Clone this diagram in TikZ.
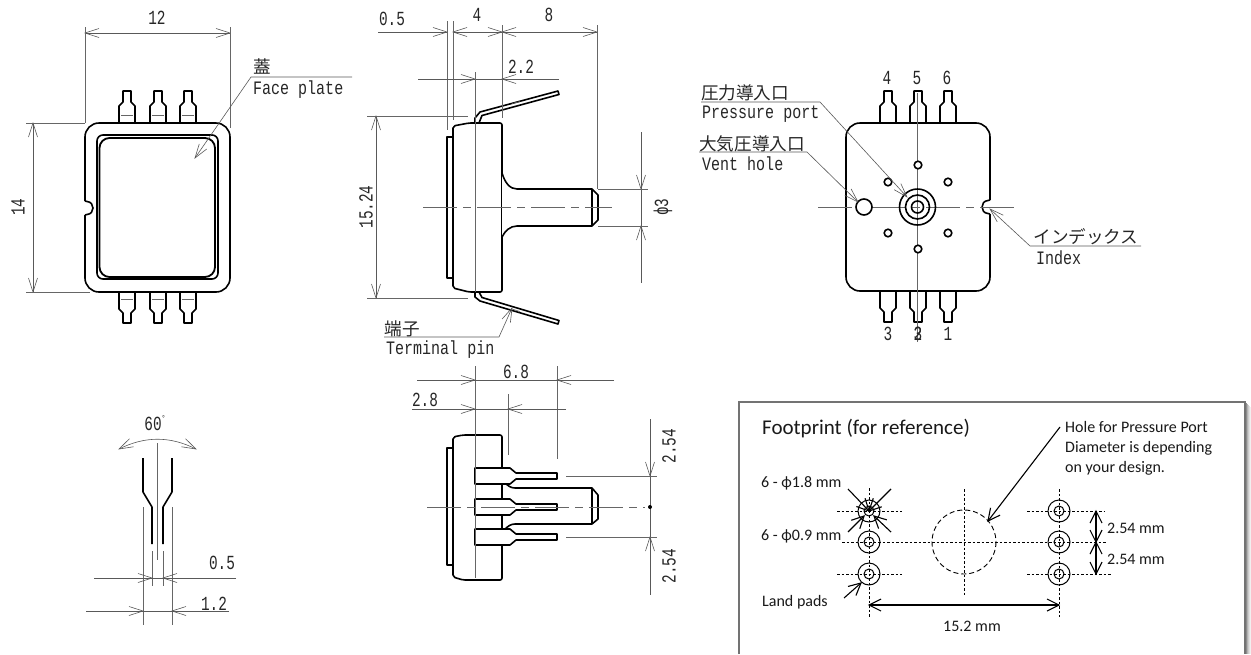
\documentclass[tikz,border=0pt]{standalone}
\usepackage{fontspec}
\usetikzlibrary{arrows.meta}
\newfontfamily\drawfont[FakeStretch=0.72]{Liberation Mono}
\newfontfamily\termfont[FakeStretch=0.79]{Liberation Mono}
\newfontfamily\jpfont{Noto Sans CJK JP}
\newfontfamily\notefont{Carlito}
\pgfdeclarearrow{
  name=VBarb,
  setup code={
    \pgfarrowssettipend{0pt}
    \pgfarrowssetlineend{-0.2pt}
    \pgfarrowssetbackend{-\pgfarrowlength}
    \pgfarrowssetvisualbackend{-\pgfarrowlength}
    \pgfarrowssavethe\pgfarrowlength
    \pgfarrowssavethe\pgfarrowwidth
  },
  drawing code={
    \pgfsetdash{}{0pt}
    \pgfsetmiterjoin
    \pgfpathmoveto{\pgfqpoint{-\pgfarrowlength}{0.5\pgfarrowwidth}}
    \pgfpathlineto{\pgfpointorigin}
    \pgfpathlineto{\pgfqpoint{-\pgfarrowlength}{-0.5\pgfarrowwidth}}
    \pgfusepathqstroke
  },
  parameters={\the\pgfarrowlength,\the\pgfarrowwidth},
  defaults={length=14pt,width=9pt}
}
\tikzset{
  x=1pt,y=-1pt,
  obj/.style={draw=black,line width=1.6pt,line join=round,fill=white},
  objl/.style={draw=black,line width=1.6pt,line join=round},
  thin line/.style={draw=black!60,line width=0.6pt},
  dimline/.style={draw=black!65,line width=0.6pt},
  open/.tip={VBarb[length=14pt,width=9pt]},
  fpopen/.tip={VBarb[length=12pt,width=12pt]},
  dimtip/.style={dimline,-open},
  dimboth/.style={dimline,open-open},
  center/.style={draw=black!60,line width=0.6pt,dash pattern=on 34pt off 6pt on 8pt off 6pt},
  dimlabel/.style={font=\drawfont\fontsize{20}{20}\selectfont,text=black!85,inner sep=0pt},
  termtext/.style={font=\termfont\fontsize{19}{19}\selectfont,text=black!85,inner sep=0pt,anchor=west},
  jp/.style={font=\jpfont\fontsize{17.6}{18}\selectfont,text=black!85,inner sep=0pt},
  note/.style={font=\notefont\fontsize{16}{16}\selectfont,text=black!90,inner sep=0pt,anchor=west},
  fpdash/.style={draw=black,line width=0.8pt,dash pattern=on 2.5pt off 2pt},
  fpland/.style={draw=black,line width=1pt},
  fparrow/.style={draw=black,line width=1.1pt,-fpopen},
  fpboth/.style={draw=black,line width=1.1pt,fpopen-fpopen},
}
\newcommand{\pinshape}[2]{% x, base y: pin going up
  \begin{scope}[shift={(#1,#2)}]
    \draw[obj] (-8,0)--(-8,-17)--(-4,-21)--(-4,-32)--(4,-32)--(4,-21)--(8,-17)--(8,0);
  \end{scope}}
\newcommand{\pinshapedown}[2]{%
  \begin{scope}[shift={(#1,#2)}]
    \draw[obj] (-8,0)--(-8,17)--(-4,21)--(-4,31)--(4,31)--(4,21)--(8,17)--(8,0);
  \end{scope}}
\newcommand{\landpad}[3]{% name, x, y
  \draw[fpland] (#2,#3) circle[radius=11];
  \draw[fpland] (#2,#3) circle[radius=5];
}
\begin{document}
\begin{tikzpicture}
\useasboundingbox (0,0) rectangle (1251,654);

% ===== Top view =====
\foreach \cx in {127,158,188}{\pinshape{\cx}{123}\pinshapedown{\cx}{292}
  \draw[thin line] (\cx-6,115)--(\cx+6,115);
  \draw[thin line] (\cx-6,299)--(\cx+6,299);}
\draw[obj,fill=none,rounded corners=14] (85,201)--(85,123)--(230,123)--(230,292)--(85,292)--(85,215);
\draw[objl] (85,201)--(87,201.5) .. controls (95,202) and (95,214) .. (87,214.5)--(85,215);
\draw[obj,fill=none,rounded corners=6] (97,135)rectangle(218,279);
\draw[obj,fill=none,rounded corners=10,line width=1.8pt] (99.5,138)rectangle(215,277);
\draw[dimboth] (85,33)--(230,33);
\draw[thin line] (85,27)--(85,123) (230,27)--(230,128);
\draw[dimboth] (33,123)--(33,292);
\draw[thin line] (26,123)--(85,123) (26,292)--(90,292);
\node[dimlabel] (d12) at (157,18) {12};
\node[dimlabel,rotate=90] (d14) at (18,207) {14};
\node[jp] (fpj) at (262,66) {蓋};
\node[termtext] (fpe) at (253,90) {Face plate};
\draw[dimtip] (352,77)--(251,77)--(195,158);

% ===== Side view =====
\draw[obj] (475,123)--(475,118)--(480,112)--(558,91)--(559,94.5)--(482,115.5)--(479,123);
\draw[obj] (475,292)--(475,297)--(480,301)--(558,324)--(559,320.5)--(482,297.5)--(479,292);
\draw[thin line] (512,103.5)--(520,101.5) (512,309)--(520,311.5);
\draw[obj] (447,137) rectangle (453,278);
\draw[obj,rounded corners=2] (453,126)--(469,123)--(502,123)--(502,292)--(469,292)--(453,288)--cycle;
\draw[obj] (502,173) .. controls (505,183) and (510,189) .. (517,189)--(592,189)--(598,195)--(598,220)--(592,226)--(517,226) .. controls (510,226) and (505,231) .. (502,237);
\draw[objl] (592,189)--(592,226);
\draw[center] (423,207)--(612,207);
\draw[dimtip] (378,32)--(447,32);
\draw[dimboth] (453,32)--(502,32);
\draw[dimboth] (502,32)--(597,32);
\draw[thin line] (447,21)--(447,130) (453,21)--(453,120) (502,25)--(502,118) (597,25)--(597,189);
\draw[dimtip] (418,79)--(475,79);
\draw[dimtip] (559,79)--(502,79);
\draw[dimline] (475,79)--(502,79);
\draw[thin line] (475,72)--(475,292);
\draw[dimboth] (376,116)--(376,298);
\draw[thin line] (367,116)--(468,116) (367,298)--(468,298);
\draw[dimline] (641,132)--(641,283);
\draw[dimtip] (641,165)--(641,189);
\draw[dimtip] (641,250)--(641,226);
\draw[thin line] (598,189)--(648,189) (598,226)--(648,226);
\node[dimlabel] (d05) at (392,19) {0.5};
\node[dimlabel] (d4) at (477,15) {4};
\node[dimlabel] (d8) at (549,15) {8};
\node[dimlabel] (d22) at (521,67) {2.2};
\node[dimlabel,rotate=90] (d1524) at (366,207) {15.24};
\node[dimlabel,rotate=90] (dphi) at (663,207) {ϕ3};
\node[jp] (tpj) at (402,329) {端子};
\node[termtext] (tpe) at (386,350) {Terminal pin};
\draw[dimtip] (384,337)--(499,337)--(512,308);

% ===== Rear view =====
\foreach \cx in {888,918,948}{\pinshape{\cx}{123}\pinshapedown{\cx}{291}}
\draw[obj,fill=none,rounded corners=14] (990,200)--(990,123)--(846,123)--(846,291)--(990,291)--(990,214);
\draw[objl] (990,200)--(988,200.5) .. controls (980,201) and (980,213) .. (988,213.5)--(990,214);
\draw[thin line] (917.5,93)--(917.5,342);
\draw[center] (818,207)--(1015,207);
\draw[obj,fill=white] (864,207) circle[radius=8];
\foreach \r in {18,12,6}{\draw[objl] (917.5,207) circle[radius=\r];}
\foreach \p in {(918,165),(888,182),(948,182),(888,233),(948,233),(918,249)}{\draw[obj] \p circle[radius=3.8];}
\draw[dimtip] (701,102)--(820,102)--(907,197);
\draw[dimtip] (699,152)--(807,152)--(858,202);
\draw[dimtip] (1141,246)--(1030,246)--(990,209);
\node[jp] (ppj) at (745,93) {圧力導入口};
\node[termtext] (ppe) at (702,114) {Pressure port};
\node[jp] (vhj) at (752,144) {大気圧導入口};
\node[termtext] (vhe) at (702,164) {Vent hole};
\node[jp] (ixj) at (1086,237) {インデックス};
\node[termtext] (ixe) at (1036,258) {Index};
\node[dimlabel] (p4) at (887,78) {4};
\node[dimlabel] (p5) at (917,78) {5};
\node[dimlabel] (p6) at (947,78) {6};
\node[dimlabel] (p3) at (888,334) {3};
\node[dimlabel] (p2) at (918,334) {2};
\node[dimlabel] (p3b) at (918,334) {3};
\node[dimlabel] (p1) at (948,334) {1};

% ===== Pin detail =====
\draw[objl] (143,458)--(143,492)--(152,507)--(152,544);
\draw[objl] (172,458)--(172,492)--(163,507)--(163,544);
\draw[thin line] (157,443)--(157,560);
\draw[thin line] (152,551)--(152,586) (163,551)--(163,586);
\draw[thin line] (143,507)--(143,625) (172,507)--(172,625);
\draw[dimtip] (94,578)--(152,578);
\draw[dimtip] (236,578)--(163,578);
\draw[dimline] (152,578)--(163,578);
\draw[dimtip] (86,611)--(143,611);
\draw[dimtip] (229,611)--(172,611);
\draw[dimline] (143,611)--(172,611);
\draw[dimboth] (119,449) .. controls (145,436) and (170,436) .. (196,449);
\node[dimlabel] (d60) at (155,423) {60\raisebox{0.45em}{\fontsize{9}{9}\selectfont°}};
\node[dimlabel] (dp5) at (222,563) {0.5};
\node[dimlabel] (d12b) at (214,604) {1.2};

% ===== Bottom side view =====
\draw[obj] (447,448) rectangle (453,565);
\draw[obj,rounded corners=2] (453,437)--(463,435)--(502,435)--(502,580)--(463,580)--(453,577)--cycle;
\draw[obj] (504,482) .. controls (508,486) and (511,488) .. (515,488)--(592,488)--(598,495)--(598,519)--(592,524)--(515,524) .. controls (511,524) and (508,526) .. (504,530);
\draw[objl] (592,488)--(592,524);
\foreach \cy in {476,507,537}{
  \draw[obj] (475,\cy-8)--(510,\cy-8)--(516,\cy-3)--(557,\cy-3)--(557,\cy+3)--(516,\cy+3)--(510,\cy+8)--(475,\cy+8)--cycle;}
\draw[center] (427,507)--(645,507);
\draw[thin line] (475,366)--(475,578) (557,366)--(557,459) (508,394)--(508,455);
\draw[dimtip] (417,380)--(475,380);
\draw[dimtip] (614,380)--(557,380);
\draw[dimline] (475,380)--(557,380);
\draw[dimtip] (412,409)--(475,409);
\draw[dimtip] (566,409)--(508,409);
\draw[dimline] (475,409)--(508,409);
\draw[dimline] (650,419)--(650,595);
\draw[dimtip] (650,452)--(650,476);
\draw[dimtip] (650,561)--(650,537);
\draw[thin line] (566,476)--(657,476) (566,537)--(657,537);
\fill[black] (650,507) circle[radius=2];
\node[dimlabel] (d68) at (516,372) {6.8};
\node[dimlabel] (d28) at (425,400) {2.8};
\node[dimlabel,rotate=90] (d254a) at (669,446) {2.54};
\node[dimlabel,rotate=90] (d254b) at (669,566) {2.54};

% ===== Footprint box =====
\foreach \o/\c in {5/6,4/12,3/20,2/30,1/45}{
  \draw[black!\c,line width=1pt] (739+\o,402+\o)--(1245+\o,402+\o)--(1245+\o,654);
}
\draw[fill=white,draw=black!55,line width=1.2pt] (739,654)--(739,402)--(1245,402)--(1245,654);
\node[note,font=\notefont\fontsize{21}{21}\selectfont] (fptitle) at (762,429) {Footprint (for reference)};
\node[note] (hole1) at (1065,427) {Hole for Pressure Port};
\node[note] (hole2) at (1065,448) {Diameter is depending};
\node[note] (hole3) at (1065,468) {on your design.};
\node[note] (phi18) at (761,483) {6 - ϕ1.8 mm};
\node[note] (phi09) at (761,536) {6 - ϕ0.9 mm};
\node[note] (land) at (762,602) {Land pads};
\node[note,anchor=center] (w152) at (972,626) {15.2 mm};
\node[note] (h1) at (1107,528) {2.54 mm};
\node[note] (h2) at (1107,559) {2.54 mm};
\draw[fpdash] (842,542)--(1107,542);
\draw[fpdash] (837,511)--(902,511) (837,574)--(902,574);
\draw[fpdash] (1027,511)--(1105,511) (1027,574)--(1112,574);
\draw[fpdash] (869,488)--(869,617) (1059,489)--(1059,617) (964,489)--(964,595);
\draw[draw=black,line width=0.9pt,dash pattern=on 5pt off 3pt] (964,542) circle[radius=32];
\foreach \y in {511,542,574}{\landpad{a}{869}{\y}\landpad{b}{1059}{\y}}
\draw[fparrow] (1060,427)--(988,521);
\draw[fpboth] (869,605)--(1059,605);
\draw[fpboth] (1096,511)--(1096,542);
\draw[fpboth] (1096,542)--(1096,574);
\draw[fparrow] (844,598)--(861,583);
\draw[fparrow] (848,489)--(869,511);
\draw[fparrow] (891,489)--(869,511);
\draw[fparrow] (848,532)--(864,516);
\draw[fparrow] (891,532)--(874,516);
\end{tikzpicture}
\end{document}
